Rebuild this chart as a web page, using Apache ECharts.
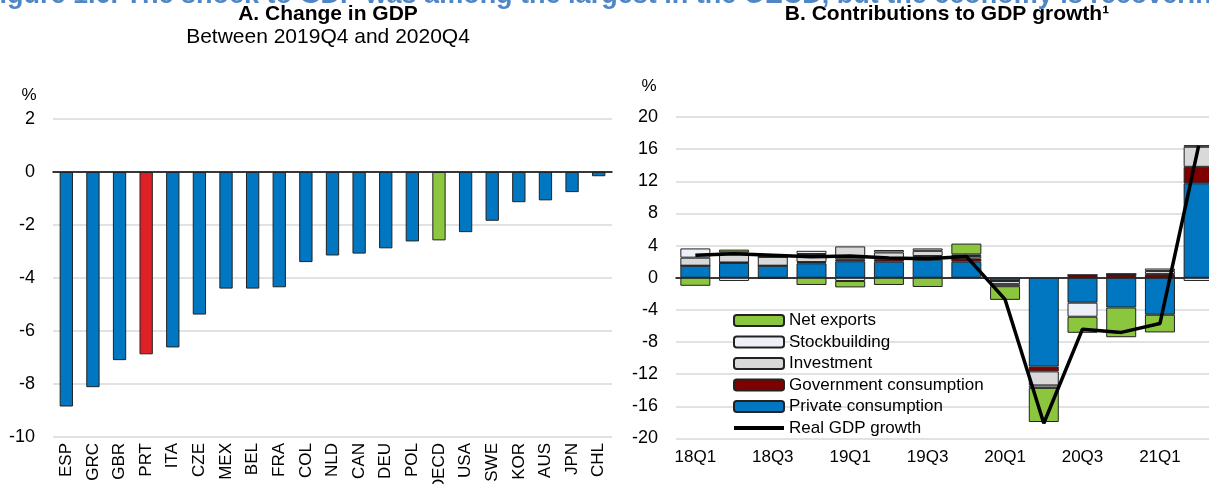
<!doctype html>
<html lang="en">
<head>
    <meta charset="utf-8">
    <title>GDP shock</title>
    <script src="https://cdn.jsdelivr.net/npm/echarts@6/dist/echarts.min.js"></script>
    <style>
        html, body { margin: 0; padding: 0; background: #fff; overflow: hidden; }
        #main { width: 1220px; height: 484px; }
    </style>
</head>
<body>
    <div id="main"></div>
    <script type="text/javascript">
        // Panel A
        var countries = ['ESP', 'GRC', 'GBR', 'PRT', 'ITA', 'CZE', 'MEX', 'BEL', 'FRA', 'COL', 'NLD',
            'CAN', 'DEU', 'POL', 'OECD', 'USA', 'SWE', 'KOR', 'AUS', 'JPN', 'CHL'];
        var gdpChange = [-8.85, -8.12, -7.1, -6.88, -6.62, -5.38, -4.4, -4.4, -4.35, -3.4, -3.15,
            -3.08, -2.88, -2.62, -2.58, -2.27, -1.84, -1.14, -1.07, -0.76, -0.16];

        // Panel B
        var quarters = ['18Q1', '18Q2', '18Q3', '18Q4', '19Q1', '19Q2', '19Q3', '19Q4',
            '20Q1', '20Q2', '20Q3', '20Q4', '21Q1', '21Q2'];
        var privateCons = [1.5, 1.85, 1.5, 1.8, 2.05, 2.0, 2.25, 2.0, -0.35, -11.05, -3.1, -3.7, -4.6, 11.75];
        var govCons = [0, 0.05, 0, 0.15, 0.25, 0.3, 0.45, 0.4, -0.05, -0.6, 0.35, 0.45, 0.45, 2.05];
        var investment = [1.0, 1.25, 1.1, 1.0, 1.6, 0.85, 0.65, 0.3, -0.4, -1.75, 0, 0, 0.4, 2.5];
        var stockbuilding = [1.15, -0.4, 0, 0.4, -0.4, 0.3, 0.3, 0.2, -0.25, -0.3, -1.75, 0, 0.3, -0.4];
        var netExports = [-1.0, 0.35, -0.05, -0.9, -0.8, -0.9, -1.15, 1.35, -1.7, -4.25, -2.0, -3.7, -2.2, 0.2];
        var realGdp = [2.8, 3.0, 2.8, 2.6, 2.7, 2.45, 2.35, 2.65, -2.7, -18.1, -6.4, -6.8, -5.7, 16.4];

        var FONT = 'Liberation Sans, Arial, sans-serif';
        var highlight = { 'PRT': '#de2027', 'OECD': '#8dc63f' };

        var chart = echarts.init(document.getElementById('main'));

        function barSeries(name, data, color) {
            return {
                name: name,
                type: 'bar',
                stack: 'contrib',
                xAxisIndex: 2,
                yAxisIndex: 1,
                barWidth: 30,
                data: data,
                itemStyle: { color: color, borderColor: '#222', borderWidth: 1 }
            };
        }

        var option = {
            animation: false,
            textStyle: { fontFamily: FONT },
            graphic: [
                { type: 'text', style: { x: -17, y: 9, text: 'Figure 1.6. The shock to GDP was among the largest in the OECD, but the economy is recovering', font: 'bold 27px ' + FONT, fill: '#4f86c6', textVerticalAlign: 'bottom' } },
                { type: 'text', style: { x: 328, y: 14, text: 'A. Change in GDP', font: 'bold 21px ' + FONT, fill: '#000', textAlign: 'center', textVerticalAlign: 'middle' } },
                { type: 'text', style: { x: 328, y: 37, text: 'Between 2019Q4 and 2020Q4', font: '21px ' + FONT, fill: '#000', textAlign: 'center', textVerticalAlign: 'middle' } },
                { type: 'text', style: { x: 947, y: 14, text: 'B. Contributions to GDP growth¹', font: 'bold 21px ' + FONT, fill: '#000', textAlign: 'center', textVerticalAlign: 'middle' } },
                { type: 'text', style: { x: 29, y: 95, text: '%', font: '17px ' + FONT, fill: '#000', textAlign: 'center', textVerticalAlign: 'middle' } },
                { type: 'text', style: { x: 649, y: 86, text: '%', font: '17px ' + FONT, fill: '#000', textAlign: 'center', textVerticalAlign: 'middle' } }
            ],
            grid: [
                { left: 53, top: 119, width: 559, height: 318, outerBoundsMode: 'none' },
                { left: 676, top: 117, width: 542, height: 321.5, outerBoundsMode: 'none' }
            ],
            legend: {
                orient: 'vertical',
                left: 728,
                top: 307,
                itemWidth: 50,
                itemHeight: 11,
                itemGap: 4.5,
                textStyle: { fontSize: 17, color: '#000', lineHeight: 17 },
                data: ['Net exports', 'Stockbuilding', 'Investment', 'Government consumption', 'Private consumption',
                    { name: 'Real GDP growth', icon: 'path://M0,0M0,3.5H50V7.5H0ZM0,11' }]
            },
            xAxis: [
                {
                    type: 'category', gridIndex: 0, data: countries, position: 'bottom',
                    axisLine: { show: false, onZero: false }, axisTick: { show: false },
                    axisLabel: { rotate: 90, fontSize: 17, color: '#000', margin: 6, interval: 0 }
                },
                {
                    type: 'category', gridIndex: 0, data: countries,
                    axisLine: { onZero: true, lineStyle: { color: '#000', width: 1.5 } },
                    axisTick: { inside: true, length: 6, lineStyle: { color: '#000', width: 1.5 } },
                    axisLabel: { show: false }
                },
                {
                    type: 'category', gridIndex: 1, data: quarters, position: 'bottom',
                    axisLine: { show: false, onZero: false }, axisTick: { show: false },
                    axisLabel: { fontSize: 17, color: '#000', margin: 10, interval: 1 }
                },
                {
                    type: 'category', gridIndex: 1, data: quarters,
                    axisLine: { onZero: true, lineStyle: { color: '#000', width: 1.5 } },
                    axisTick: { inside: true, length: 6, interval: 1, lineStyle: { color: '#000', width: 1.5 } },
                    axisLabel: { show: false, interval: 1 }
                }
            ],
            yAxis: [
                {
                    type: 'value', gridIndex: 0, min: -10, max: 2, interval: 2,
                    axisLine: { show: false }, axisTick: { show: false },
                    axisLabel: { fontSize: 18, color: '#000', margin: 18 },
                    splitLine: { lineStyle: { color: '#d9d9d9', width: 1.5 } }
                },
                {
                    type: 'value', gridIndex: 1, min: -20, max: 20, interval: 4,
                    axisLine: { show: false }, axisTick: { show: false },
                    axisLabel: { fontSize: 18, color: '#000', margin: 18 },
                    splitLine: { lineStyle: { color: '#d9d9d9', width: 1.5 } }
                }
            ],
            series: [
                {
                    name: 'Change in GDP',
                    type: 'bar',
                    xAxisIndex: 0,
                    yAxisIndex: 0,
                    barWidth: '50%',
                    data: gdpChange.map(function (v, i) {
                        return { value: v, itemStyle: { color: highlight[countries[i]] || '#0077c0' } };
                    }),
                    itemStyle: { borderColor: '#222', borderWidth: 1 }
                },
                barSeries('Private consumption', privateCons, '#0077c0'),
                barSeries('Government consumption', govCons, '#7f0000'),
                barSeries('Investment', investment, '#d9d9d9'),
                barSeries('Stockbuilding', stockbuilding, '#eef0f8'),
                barSeries('Net exports', netExports, '#8cc63f'),
                {
                    name: 'Real GDP growth',
                    type: 'line',
                    xAxisIndex: 2,
                    yAxisIndex: 1,
                    symbol: 'none',
                    data: realGdp,
                    lineStyle: { color: '#000', width: 3.5 },
                    itemStyle: { color: '#000' }
                }
            ]
        };
        chart.setOption(option);
    </script>
</body>
</html>
